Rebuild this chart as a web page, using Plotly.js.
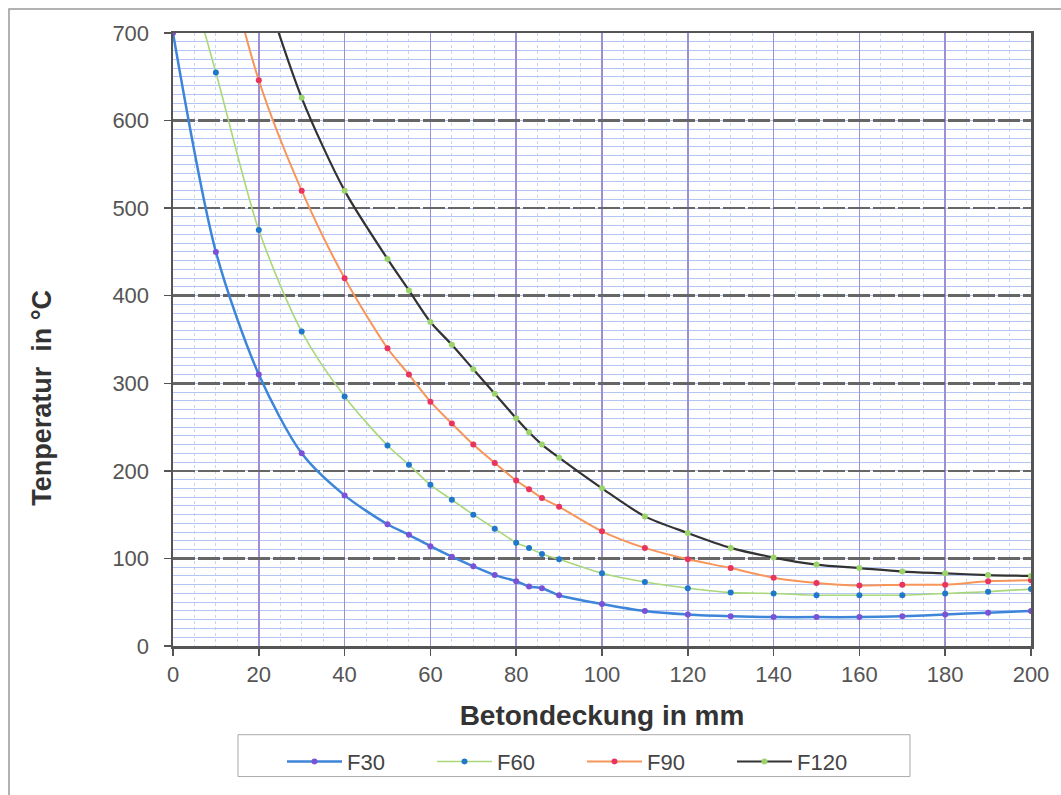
<!DOCTYPE html>
<html>
<head>
<meta charset="utf-8">
<script src="https://cdn.plot.ly/plotly-3.0.1.min.js"></script>
<style>
  html, body { margin: 0; padding: 0; background: #ffffff; }
  #chart { width: 1061px; height: 795px; }
</style>
</head>
<body>
<div id="chart"></div>
<script>
// Betondeckung (mm)
const cover = [0, 10, 20, 30, 40, 50, 55, 60, 65, 70, 75, 80, 83, 86, 90, 100, 110, 120, 130, 140, 150, 160, 170, 180, 190, 200];

// Temperatur (°C) per fire resistance class
const f30  = [700, 450, 310, 220, 172, 139, 127, 114, 102, 91, 81, 74, 68, 66, 58, 48, 40, 36, 34, 33, 33, 33, 34, 36, 38, 40];
const f60  = [830, 655, 475, 359, 285, 229, 207, 184, 167, 150, 134, 118, 112, 105, 99, 83, 73, 66, 61, 60, 58, 58, 58, 60, 62, 65];
const f90  = [null, 830, 646, 520, 420, 340, 310, 279, 254, 230, 209, 189, 179, 169, 159, 131, 112, 99, 89, 78, 72, 69, 70, 70, 74, 75];
const f120 = [null, null, 770, 626, 520, 442, 406, 370, 344, 316, 288, 260, 244, 230, 215, 180, 148, 129, 112, 101, 93, 89, 85, 83, 81, 80];

const seriesNames = ['F30', 'F60', 'F90', 'F120'];
const xTicks = [0, 20, 40, 60, 80, 100, 120, 140, 160, 180, 200];
const yTicks = [0, 100, 200, 300, 400, 500, 600, 700];

const FONT = 'Liberation Sans, Arial, sans-serif';

function tr(name, y, lineColor, lineWidth, markerColor) {
  return {
    type: 'scatter', mode: 'lines+markers', name: name,
    x: cover, y: y,
    line: { color: lineColor, width: lineWidth, shape: 'spline', smoothing: 0.8 },
    marker: { color: markerColor, size: 6 },
    connectgaps: false
  };
}

const data = [
  tr(seriesNames[0], f30, '#3d85d8', 2.5, '#7b52d6'),
  tr(seriesNames[1], f60, '#a9d77a', 1.6, '#1f78cc'),
  tr(seriesNames[2], f90, '#f7955a', 2, '#e8345f'),
  tr(seriesNames[3], f120, '#333333', 2.2, '#9bd46a')
];

const PL = 173, PR = 1031, PT = 33, PB = 648;
const pw = PR - PL, ph = PB - PT;
const px = v => (v - PL) / pw;
const py = v => (PB - v) / ph;

const layout = {
  width: 1061, height: 795,
  margin: { l: PL, r: 1061 - PR, t: PT, b: 795 - PB, pad: 0 },
  paper_bgcolor: '#ffffff', plot_bgcolor: '#ffffff',
  font: { family: FONT, color: '#555555' },
  showlegend: true,
  xaxis: {
    range: [0, 200], tickvals: xTicks, ticktext: xTicks.map(String),
    showline: true, linecolor: '#555555', linewidth: 2.5, mirror: true,
    ticks: 'outside', ticklen: 7, tickcolor: '#555555', tickwidth: 1.5,
    tickfont: { size: 22, color: '#555555', family: FONT },
    showgrid: true, gridcolor: '#9d8fd0', gridwidth: 1.5,
    minor: { dtick: 5, showgrid: true, gridcolor: '#c6d5f4', gridwidth: 1, griddash: 'dot' },
    zeroline: false, fixedrange: true,
    title: { text: 'Betondeckung in mm', font: { size: 28, color: '#333333', family: FONT, weight: 'bold' }, standoff: 20 }
  },
  yaxis: {
    range: [0, 700], tickvals: yTicks, ticktext: yTicks.map(String),
    showline: true, linecolor: '#555555', linewidth: 2.5, mirror: true,
    ticks: 'outside', ticklen: 7, tickcolor: '#555555', tickwidth: 1.5,
    ticklabelstandoff: 10,
    tickfont: { size: 22, color: '#555555', family: FONT },
    showgrid: true, gridcolor: '#666666', gridwidth: 2.5, griddash: '22px,3px',
    minor: { dtick: 10, showgrid: true, gridcolor: '#b3c5f3', gridwidth: 1, griddash: 'solid' },
    zeroline: false, fixedrange: true
  },
  annotations: [
    { text: 'Tenperatur\u00a0 in °C', xref: 'paper', yref: 'paper', x: px(42), y: py(399),
      xanchor: 'center', yanchor: 'middle', textangle: -90, showarrow: false,
      font: { size: 27, color: '#333333', family: FONT, weight: 'bold' } }
  ],
  legend: {
    orientation: 'h', x: px(282), y: py(743), xanchor: 'left', yanchor: 'top',
    font: { size: 22, color: '#444444', family: FONT },
    bgcolor: 'rgba(0,0,0,0)', borderwidth: 0,
    entrywidth: 80, itemwidth: 55, traceorder: 'normal'
  },
  shapes: [
    { type: 'rect', xref: 'paper', yref: 'paper', x0: px(238), x1: px(910), y0: py(779), y1: py(737),
      line: { color: '#aaaaaa', width: 1 }, fillcolor: 'rgba(0,0,0,0)', layer: 'below' },
    { type: 'rect', xref: 'paper', yref: 'paper', x0: px(9), x1: px(1070), y0: py(805), y1: py(9),
      line: { color: '#999999', width: 1.5 }, fillcolor: 'rgba(0,0,0,0)', layer: 'below' }
  ]
};

Plotly.newPlot('chart', data, layout, { displayModeBar: false, staticPlot: true });
</script>
</body>
</html>
